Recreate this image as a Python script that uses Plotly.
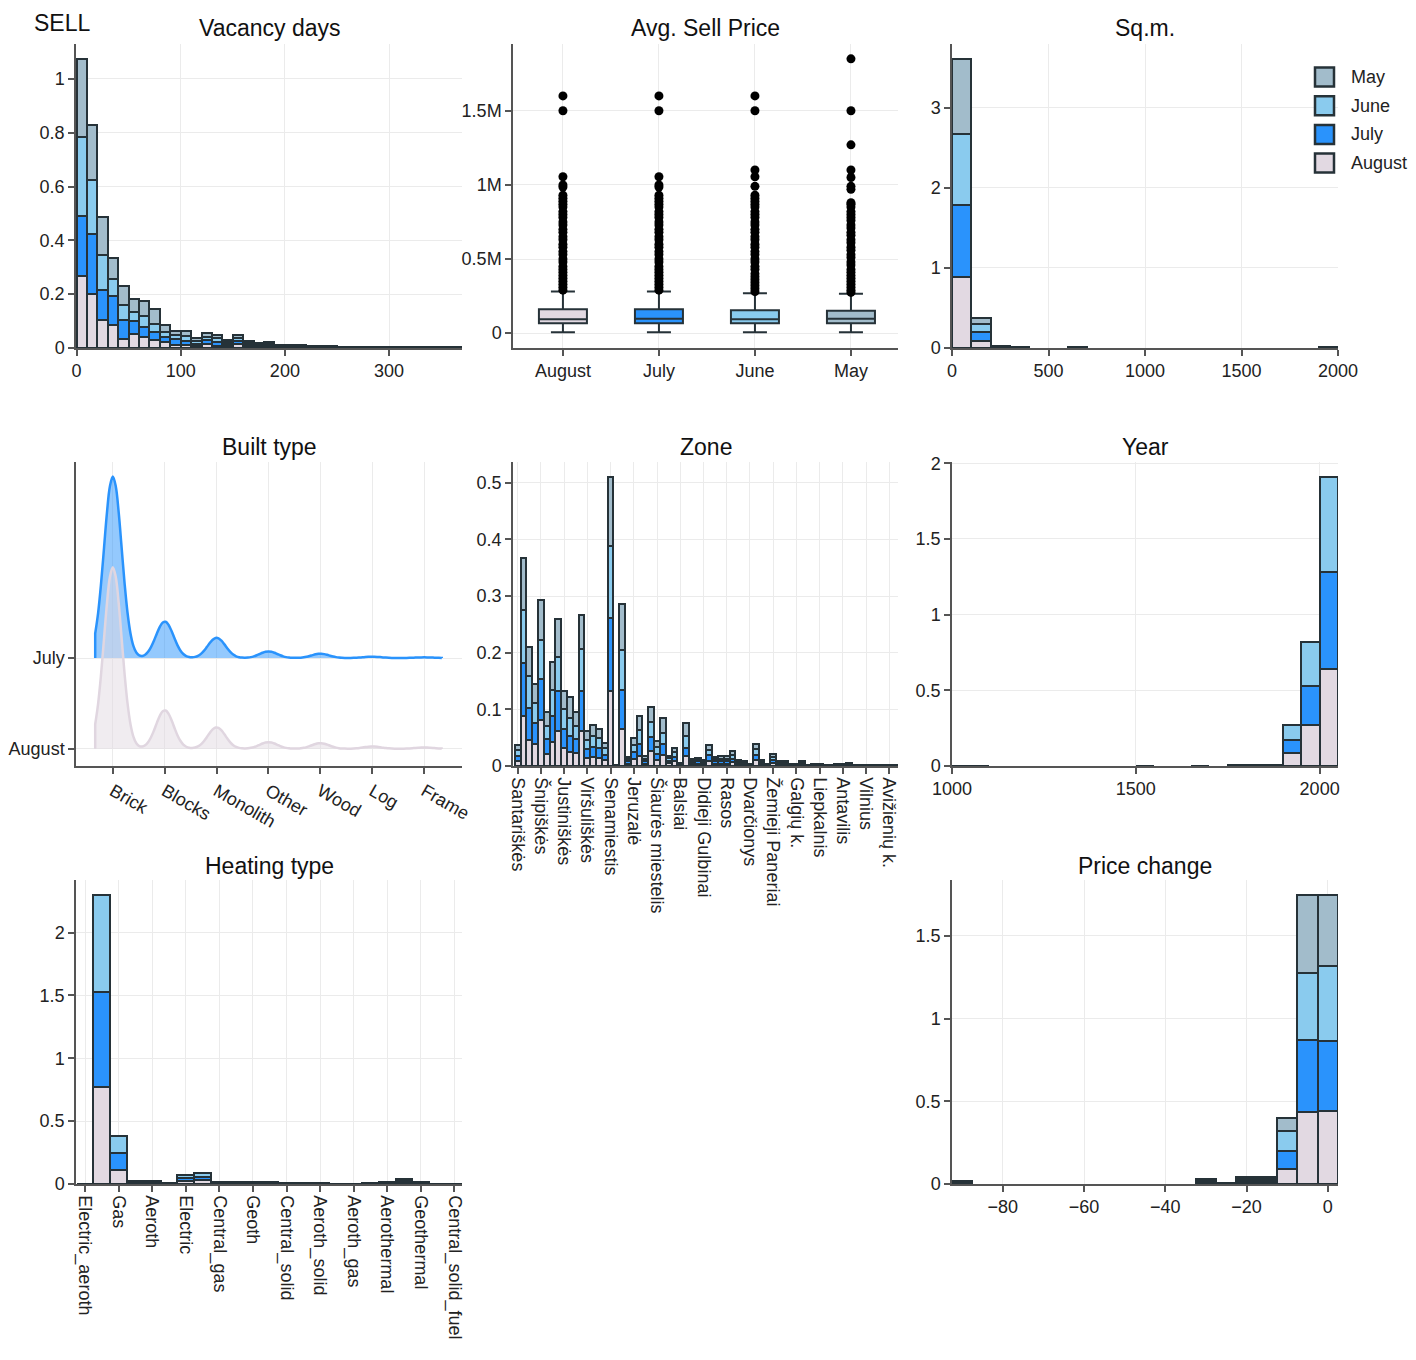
import plotly.graph_objects as go
from plotly.subplots import make_subplots

FONT = 'Liberation Sans, Arial, sans-serif'
OFF = 8                 # page body margin
W, H = 1400, 1344       # figure size

months = ['August', 'July', 'June', 'May']
colors = {'August': '#e2d9e2', 'July': '#2a93fc', 'June': '#8acbee', 'May': '#a2bccb'}
edge = '#263238'

# ---- Vacancy days (bins of 10 days, probability per month) ----
vac_bins = list(range(5, 370, 10))
vac = {
    'August': [.266, .202, .105, .084, .032, .051, .041, .029, .024, .012,
               .010, .006, .014, .008, .007, .014, .006, .005, .005, .003,
               .003, .002, .0015, .0015, .0015, .0012, .0012, .001, .0008, .0008,
               .0008, .0008, .0008, .0008, .001, .0008, .0008],
    'July': [.223, .220, .112, .110, .073, .049, .037, .031, .017, .020,
             .015, .010, .014, .014, .007, .012, .007, .005, .005, .003,
             .003, .003, .0015, .0015, .0015, .0012, .0012, .001, .0007, .0007,
             .0007, .0007, .0007, .0007, .001, .0007, .0007],
    'June': [.294, .204, .127, .063, .053, .034, .040, .030, .018, .015,
             .020, .010, .013, .014, .007, .012, .006, .004, .006, .003,
             .002, .003, .0015, .0015, .0015, .0013, .0013, .001, .0008, .0008,
             .0008, .0008, .0008, .0008, .001, .0008, .0008],
    'May': [.290, .204, .141, .078, .072, .047, .058, .056, .028, .016,
            .018, .012, .015, .014, .007, .012, .007, .005, .005, .003,
            .003, .003, .0015, .0015, .0015, .0013, .0013, .001, .0007, .0007,
            .0007, .0007, .0007, .0007, .001, .0007, .0007],
}

# ---- Avg. Sell Price (box statistics per month) ----
box_q1 = {'August': 67e3, 'July': 67e3, 'June': 67e3, 'May': 67e3}
box_med = {'August': 94e3, 'July': 97e3, 'June': 94e3, 'May': 98e3}
box_q3 = {'August': 162e3, 'July': 162e3, 'June': 155e3, 'May': 151e3}
box_lo = {'August': 7e3, 'July': 7e3, 'June': 7e3, 'May': 7e3}
box_hi = {'August': 281e3, 'July': 281e3, 'June': 270e3, 'May': 265e3}
box_out = {
    'August': [.29, .31, .33, .35, .37, .39, .41, .43, .45, .48, .50, .53, .55, .58, .60,
               .63, .65, .68, .70, .73, .75, .78, .80, .82, .85, .87, .89, .91, .93,
               .985, 1.0, 1.055, 1.5, 1.6],
    'July': [.29, .31, .33, .35, .37, .39, .41, .43, .45, .48, .50, .53, .55, .58, .60,
             .63, .65, .68, .70, .73, .75, .78, .80, .82, .85, .87, .89, .91, .93,
             .985, 1.0, 1.055, 1.5, 1.6],
    'June': [.28, .30, .32, .34, .36, .38, .40, .43, .45, .48, .50, .53, .55, .58, .60,
             .63, .65, .68, .70, .73, .75, .78, .80, .82, .85, .87, .89, .91, .93,
             .99, 1.055, 1.1, 1.5, 1.6],
    'May': [.275, .29, .31, .33, .35, .37, .39, .41, .43, .46, .48, .51, .53, .56, .58,
            .61, .63, .66, .68, .71, .73, .76, .78, .80, .82, .85, .87, .88,
            .97, .99, 1.05, 1.1, 1.27, 1.5, 1.85],
}

# ---- Sq.m. (bins of 100) ----
sqm_bins = [50, 150, 250, 350, 650, 1950]
sqm = {
    'August': [.884, .092, .008, .004, .003, .003],
    'July': [.897, .112, .008, .003, .003, .002],
    'June': [.885, .096, .007, .003, .003, .003],
    'May': [.939, .071, .007, .003, .002, .003],
}

# ---- Built type (relative counts) ----
built_types = ['Brick', 'Blocks', 'Monolith', 'Other', 'Wood', 'Log', 'Frame']
built_counts = {
    'July': [548, 110, 61, 20, 13, 4, 2],
    'August': [552, 117, 65, 20, 17, 7, 4],
}

# ---- Zone ----
zones = ['Santariškės', 'Antakalnis', 'Žirmūnai', 'Naujamiestis', 'Šnipiškės', 'Žvėrynas',
         'Lazdynai', 'Karoliniškės', 'Justiniškės', 'Fabijoniškės', 'Pašilaičiai', 'Pilaitė',
         'Viršuliškės', 'Baltupiai', 'Verkiai', 'Naujininkai', 'Senamiestis', 'Naujoji Vilnia',
         'Pavilnys', 'Grigiškės', 'Jeruzalė', 'Visoriai', 'Bajorai', 'Užupis',
         'Šiaurės miestelis', 'Valakampiai', 'Lazdynėliai', 'Šeškinė', 'Balsiai', 'Vilkpėdė',
         'Paupys', 'Tarandė', 'Didieji Gulbinai', 'Markučiai', 'Saulėtekis', 'Kairėnai',
         'Rasos', 'Pučkoriai', 'Burbiškės', 'Kirtimai', 'Dvarčionys', 'Salininkai',
         'Trakų Vokė', 'Paneriai', 'Žemieji Paneriai', 'Aukštieji Paneriai', 'Zujūnai',
         'Gineitiškės', 'Galgių k.', 'Bukčiai', 'Tupatiškės', 'Turniškės', 'Liepkalnis',
         'Belmontas', 'Rokantiškės', 'Pagiriai', 'Antavilis', 'Riešė', 'Šilėnai', 'Kalnėnai',
         'Vilnius', 'Klevinė', 'Jočionys', 'Bendorėliai', 'Avižienių k.', 'Antežeriai']
zone_ticks = ['Santariškės', 'Šnipiškės', 'Justiniškės', 'Viršuliškės', 'Senamiestis',
              'Jeruzalė', 'Šiaurės miestelis', 'Balsiai', 'Didieji Gulbinai', 'Rasos',
              'Dvarčionys', 'Žemieji Paneriai', 'Galgių k.', 'Liepkalnis', 'Antavilis',
              'Vilnius', 'Avižienių k.']
zone = {
    'August': [.009, .088, .046, .038, .081, .022, .042, .061, .031, .024,
               .023, .062, .014, .016, .015, .010, .133, .0005, .066, .004,
               .012, .018, .004, .026, .011, .020, .005, .008, .0015, .018,
               .003, .004, .0025, .009, .004, .004, .004, .007, .0025, .002,
               .0008, .010, .0025, .0008, .005, .002, .002, .0008, .001, .002,
               .0005, .0008, .001, .0005, .0005, .0008, .001, .0015, .0005, .0005,
               .0005, .0005, .0005, .0005, .0005, .0005],
    'July': [.009, .094, .056, .038, .072, .025, .046, .071, .034, .029,
             .024, .070, .016, .018, .017, .010, .129, .0005, .069, .004,
             .012, .020, .005, .025, .011, .018, .004, .008, .0015, .014,
             .003, .004, .0025, .010, .004, .004, .005, .006, .0025, .0025,
             .0008, .010, .0025, .0007, .005, .002, .0025, .0007, .001, .002,
             .0005, .0007, .001, .0005, .0005, .0007, .001, .0015, .0005, .0005,
             .0005, .0005, .0005, .0005, .0005, .0005],
    'June': [.010, .093, .057, .036, .069, .024, .046, .060, .035, .032,
             .024, .074, .016, .019, .017, .011, .126, .0005, .070, .004,
             .013, .025, .004, .027, .012, .020, .005, .008, .0015, .021,
             .003, .003, .0025, .009, .004, .005, .004, .007, .0025, .0025,
             .0007, .010, .0025, .0008, .006, .002, .0025, .0008, .001, .002,
             .0005, .0008, .001, .0005, .0005, .0008, .001, .0015, .0005, .0005,
             .0005, .0005, .0005, .0005, .0005, .0005],
    'May': [.009, .093, .052, .032, .072, .025, .050, .067, .032, .036,
            .025, .060, .016, .019, .017, .010, .122, .0005, .081, .004,
            .012, .025, .005, .027, .011, .026, .004, .008, .0015, .023,
            .003, .004, .0025, .009, .004, .004, .004, .006, .0025, .002,
            .0007, .009, .0025, .0007, .005, .002, .002, .0007, .001, .002,
            .0005, .0007, .001, .0005, .0005, .0007, .001, .0015, .0005, .0005,
            .0005, .0005, .0005, .0005, .0005, .0005],
}

# ---- Year (bins of 50) ----
year_bins = [1025, 1075, 1525, 1675, 1775, 1825, 1875, 1925, 1975, 2025]
year = {
    'August': [.001, .001, .001, .001, .001, .002, .003, .086, .268, .640],
    'July': [.001, .001, .001, .001, .002, .002, .003, .083, .258, .645],
    'June': [.001, .001, .001, .001, .001, .002, .003, .104, .290, .623],
}

# ---- Heating type ----
heating = ['Electric_aeroth', 'Central', 'Gas', 'Solid_fuel', 'Aeroth', 'Electric_solid',
           'Electric', 'Central_electric', 'Central_gas', 'Geoth_electric', 'Geoth',
           'Central_aeroth', 'Central_solid', 'Gas_solid', 'Aeroth_solid', 'Geoth_gas',
           'Aeroth_gas', 'Other', 'Aerothermal', 'Solar', 'Geothermal', 'Central_geoth',
           'Central_solid_fuel']
heating_ticks = ['Electric_aeroth', 'Gas', 'Aeroth', 'Electric', 'Central_gas', 'Geoth',
                 'Central_solid', 'Aeroth_solid', 'Aeroth_gas', 'Aerothermal', 'Geothermal',
                 'Central_solid_fuel']
heat = {
    'August': [0, .774, .111, .007, .008, .003, .024, .028, .004, .006, .006, .005,
               .0015, .0015, .002, .0013, .001, .0015, .004, .012, .004, .0007, .0007],
    'July': [0, .757, .133, .007, .009, .003, .024, .028, .004, .006, .006, .005,
             .0015, .0015, .002, .0013, .001, .0015, .004, .012, .004, .0007, .0007],
    'June': [0, .766, .140, .007, .008, .003, .024, .029, .004, .006, .006, .005,
             .0015, .0015, .002, .0013, .001, .0015, .004, .012, .004, .0007, .0007],
}

# ---- Price change (bins of 5) ----
pc_bins = [-90, -30, -25, -20, -15, -10, -5, 0]
pc = {
    'August': [.005, .008, .002, .010, .011, .091, .433, .443],
    'July': [.005, .007, .002, .011, .011, .110, .437, .423],
    'June': [.005, .008, .002, .010, .011, .121, .404, .453],
    'May': [.005, .007, .002, .011, .011, .075, .472, .427],
}

legend_order = ['May', 'June', 'July', 'August']

fig = make_subplots(rows=3, cols=3,
                    specs=[[{}, {}, {}], [{}, {}, {}], [{}, None, {}]])


def add_stack(data, x, row, col):
    for m in months:
        if m not in data:
            continue
        fig.add_trace(go.Bar(x=x, y=data[m], name=m, showlegend=False,
                             marker=dict(color=colors[m], line=dict(color=edge, width=2.3))),
                      row=row, col=col)


add_stack(vac, vac_bins, 1, 1)
add_stack(sqm, sqm_bins, 1, 3)
add_stack(zone, zones, 2, 2)
add_stack(year, year_bins, 2, 3)
add_stack(heat, heating, 3, 1)
add_stack(pc, pc_bins, 3, 3)

for m in months:
    fig.add_trace(go.Box(x=[m], q1=[box_q1[m]], median=[box_med[m]], q3=[box_q3[m]],
                         lowerfence=[box_lo[m]], upperfence=[box_hi[m]],
                         fillcolor=colors[m], line=dict(color=edge, width=2),
                         width=0.5, boxpoints=False, showlegend=False), row=1, col=2)
    fig.add_trace(go.Scatter(x=[m] * len(box_out[m]), y=[v * 1e6 for v in box_out[m]],
                             mode='markers', marker=dict(color='black', size=9),
                             showlegend=False), row=1, col=2)

violin_style = {
    'July': dict(line='#2a93fc', fill='rgba(42,147,252,0.5)'),
    'August': dict(line='#e0d6e0', fill='rgba(226,217,226,0.5)'),
}
for m in ['July', 'August']:
    xs = [i for i, n in enumerate(built_counts[m]) for _ in range(n)]
    fig.add_trace(go.Violin(x=xs, y=[m] * len(xs), orientation='h', side='positive',
                            width=4, points=False, bandwidth=0.17,
                            line=dict(color=violin_style[m]['line'], width=2.5),
                            fillcolor=violin_style[m]['fill'], showlegend=False),
                  row=2, col=1)


def fx(p):
    return (p - OFF) / W


def fy(p):
    return 1 - (p - OFF) / H


cols_px = [(76, 462), (513, 898), (952, 1338)]
rows_px = [(44, 348), (462, 766), (880, 1184)]

axis_common = dict(showline=True, linecolor='#555', linewidth=1.5, ticks='outside',
                   ticklen=6, tickwidth=1.5, tickcolor='#555', showgrid=True,
                   gridcolor='#ebebeb', gridwidth=1, zeroline=False, automargin=False,
                   tickfont=dict(size=18, color='#222', family=FONT))

cells = [(1, 1), (1, 2), (1, 3), (2, 1), (2, 2), (2, 3), (3, 1), (3, 3)]
for r, c in cells:
    a, b = cols_px[c - 1]
    t, btm = rows_px[r - 1]
    fig.update_xaxes(domain=[fx(a), fx(b)], **axis_common, row=r, col=c)
    fig.update_yaxes(domain=[fy(btm), fy(t)], **axis_common, row=r, col=c)

fig.update_xaxes(range=[-0.5, 370], dtick=100, row=1, col=1)
fig.update_yaxes(dtick=0.2, row=1, col=1)

fig.update_xaxes(type='category', categoryorder='array', categoryarray=months,
                 range=[-0.52, 3.49], row=1, col=2)
fig.update_yaxes(range=[-0.1e6, 1.95e6], tickvals=[0, 0.5e6, 1e6, 1.5e6],
                 ticktext=['0', '0.5M', '1M', '1.5M'], row=1, col=2)

fig.update_xaxes(range=[0, 2000], dtick=500, row=1, col=3)
fig.update_yaxes(dtick=1, row=1, col=3)

fig.update_xaxes(range=[-0.71, 6.73], tickvals=list(range(len(built_types))),
                 ticktext=built_types, tickangle=30, row=2, col=1)
fig.update_yaxes(type='category', categoryorder='array', categoryarray=['August', 'July'],
                 range=[-0.19, 3.16], row=2, col=1)

fig.update_xaxes(type='category', categoryorder='array', categoryarray=zones,
                 tickvals=zone_ticks, tickangle=90, range=[-0.8, 65.5], row=2, col=2)
fig.update_yaxes(dtick=0.1, row=2, col=2)

fig.update_xaxes(range=[1000, 2050], tickvals=[1000, 1500, 2000], row=2, col=3)
fig.update_yaxes(dtick=0.5, row=2, col=3)

fig.update_xaxes(type='category', categoryorder='array', categoryarray=heating,
                 tickvals=heating_ticks, tickangle=90, range=[-0.54, 22.45], row=3, col=1)
fig.update_yaxes(dtick=0.5, row=3, col=1)

fig.update_xaxes(range=[-92.5, 2.5], dtick=20, row=3, col=3)
fig.update_yaxes(dtick=0.5, row=3, col=3)

titles = [('Vacancy days', 0, 0), ('Avg. Sell Price', 1, 0), ('Sq.m.', 2, 0),
          ('Built type', 0, 1), ('Zone', 1, 1), ('Year', 2, 1),
          ('Heating type', 0, 2), ('Price change', 2, 2)]
title_y = [28, 447, 866]
for text, c, r in titles:
    a, b = cols_px[c]
    fig.add_annotation(text=text, x=fx((a + b) / 2), y=fy(title_y[r]),
                       xref='paper', yref='paper', showarrow=False,
                       xanchor='center', yanchor='middle',
                       font=dict(size=23, color='#111', family=FONT))

# page title
fig.add_annotation(text='SELL', x=fx(32), y=1, xref='paper', yref='paper',
                   xanchor='left', yanchor='top', showarrow=False,
                   font=dict(size=23, color='#111', family=FONT))

# legend drawn as keys + labels so it sits at the figure's right edge
for i, m in enumerate(legend_order):
    yc = 77 + i * 28.7
    fig.add_shape(type='rect', xref='paper', yref='paper',
                  x0=fx(1315), x1=fx(1334), y0=fy(yc + 9.5), y1=fy(yc - 9.5),
                  fillcolor=colors[m], line=dict(color=edge, width=2.5))
    fig.add_annotation(text=m, x=fx(1349), y=fy(yc), xref='paper', yref='paper',
                       xanchor='left', yanchor='middle', showarrow=False,
                       font=dict(size=18, color='#222', family=FONT))

fig.update_layout(
    template='none',
    width=W, height=H,
    margin=dict(l=0, r=0, t=0, b=0),
    paper_bgcolor='white', plot_bgcolor='white',
    font=dict(family=FONT, size=18, color='#222'),
    barmode='stack', bargap=0,
    showlegend=False,
)

fig.write_html('out.html')
